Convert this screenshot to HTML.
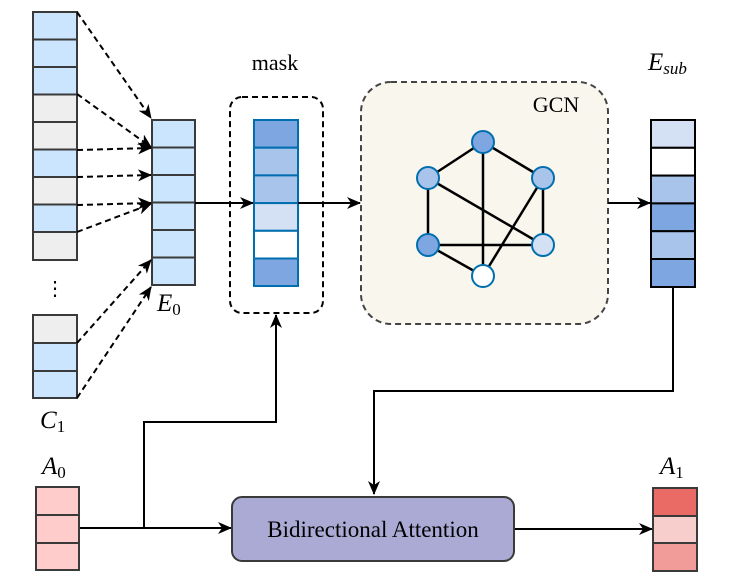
<!DOCTYPE html>
<html><head><style>body{margin:0;background:#fff}svg{display:block}</style></head><body>
<svg width="747" height="578" viewBox="0 0 747 578" xmlns="http://www.w3.org/2000/svg" font-family="Liberation Serif, serif">
<defs>
<marker id="ah" markerWidth="14" markerHeight="14" refX="13" refY="6" orient="auto" markerUnits="userSpaceOnUse"><path d="M0,0 L14,6 L0,12 L4,6 z" fill="#000"/></marker>
</defs>
<g stroke="#3a3a3a" stroke-width="2">
<rect x="33" y="12" width="44" height="27.5" fill="#CCE5FF"/>
<rect x="33" y="39.5" width="44" height="27.5" fill="#CCE5FF"/>
<rect x="33" y="67" width="44" height="27.5" fill="#CCE5FF"/>
<rect x="33" y="94.5" width="44" height="27.5" fill="#EEEEEE"/>
<rect x="33" y="122" width="44" height="27.5" fill="#EEEEEE"/>
<rect x="33" y="149.5" width="44" height="27.5" fill="#CCE5FF"/>
<rect x="33" y="177" width="44" height="27.5" fill="#EEEEEE"/>
<rect x="33" y="204.5" width="44" height="27.5" fill="#CCE5FF"/>
<rect x="33" y="232" width="44" height="28" fill="#EEEEEE"/>
<rect x="33" y="315" width="44" height="28" fill="#EEEEEE"/>
<rect x="33" y="343" width="44" height="28" fill="#CCE5FF"/>
<rect x="33" y="371" width="44" height="27" fill="#CCE5FF"/>
<rect x="152" y="120" width="43" height="27.5" fill="#CCE5FF"/>
<rect x="152" y="147.5" width="43" height="27.5" fill="#CCE5FF"/>
<rect x="152" y="175" width="43" height="27.5" fill="#CCE5FF"/>
<rect x="152" y="202.5" width="43" height="27.5" fill="#CCE5FF"/>
<rect x="152" y="230" width="43" height="27.5" fill="#CCE5FF"/>
<rect x="152" y="257.5" width="43" height="27.5" fill="#CCE5FF"/>
</g>
<text x="55" y="295" font-size="20" text-anchor="middle">⋮</text>
<g stroke="#000" stroke-width="2" stroke-dasharray="6,4" fill="none" marker-end="url(#ah)">
<line x1="77" y1="12" x2="151" y2="118"/>
<line x1="77" y1="94" x2="151" y2="147"/>
<line x1="77" y1="150" x2="151" y2="148"/>
<line x1="77" y1="177" x2="151" y2="175"/>
<line x1="77" y1="205" x2="151" y2="203"/>
<line x1="77" y1="232" x2="151" y2="204"/>
<line x1="77" y1="343" x2="151" y2="260"/>
<line x1="77" y1="398" x2="151" y2="287"/>
</g>
<text x="157" y="311" font-size="25" font-style="italic">E<tspan font-size="17" font-style="normal" dy="4">0</tspan></text>
<text x="40" y="428" font-size="25" font-style="italic">C<tspan font-size="17" font-style="normal" dy="4">1</tspan></text>
<text x="275" y="70" font-size="22" text-anchor="middle">mask</text>
<rect x="230" y="97" width="93" height="216" rx="12" fill="none" stroke="#000" stroke-width="2" stroke-dasharray="6,4"/>
<g stroke="#006EAF" stroke-width="2">
<rect x="254" y="120" width="44" height="27.7" fill="#7EA6E0"/>
<rect x="254" y="147.7" width="44" height="27.7" fill="#A9C4EB"/>
<rect x="254" y="175.4" width="44" height="27.7" fill="#A9C4EB"/>
<rect x="254" y="203.1" width="44" height="27.7" fill="#D4E1F5"/>
<rect x="254" y="230.8" width="44" height="27.7" fill="#FFFFFF"/>
<rect x="254" y="258.5" width="44" height="27.5" fill="#7EA6E0"/>
</g>
<rect x="361" y="82" width="247" height="242" rx="30" fill="#F9F7ED" stroke="#444" stroke-width="2" stroke-dasharray="6,4"/>
<text x="556" y="112" font-size="22" text-anchor="middle">GCN</text>
<g stroke="#000" stroke-width="2.5">
<line x1="483" y1="142" x2="428" y2="178"/><line x1="483" y1="142" x2="543" y2="178"/>
<line x1="483" y1="142" x2="483" y2="276"/><line x1="428" y1="178" x2="428" y2="245"/>
<line x1="428" y1="178" x2="543" y2="245"/><line x1="543" y1="178" x2="543" y2="245"/>
<line x1="543" y1="178" x2="483" y2="276"/><line x1="428" y1="245" x2="543" y2="245"/>
<line x1="428" y1="245" x2="483" y2="276"/>
</g>
<g stroke="#006EAF" stroke-width="2">
<circle cx="483" cy="142" r="11" fill="#7EA6E0"/>
<circle cx="428" cy="178" r="11" fill="#A9C4EB"/>
<circle cx="543" cy="178" r="11" fill="#A9C4EB"/>
<circle cx="428" cy="245" r="11" fill="#7EA6E0"/>
<circle cx="543" cy="245" r="11" fill="#D4E1F5"/>
<circle cx="483" cy="276" r="11" fill="#FFFFFF"/>
</g>
<g stroke="#000" stroke-width="2" fill="none">
<line x1="195" y1="203" x2="253" y2="203" marker-end="url(#ah)"/>
<line x1="298" y1="203" x2="360" y2="203" marker-end="url(#ah)"/>
<line x1="608" y1="203" x2="650" y2="203" marker-end="url(#ah)"/>
<polyline points="673,287 673,391 374,391 374,494" marker-end="url(#ah)"/>
<polyline points="79,528 231,528" marker-end="url(#ah)"/>
<polyline points="144,528 144,422 276,422 276,315" marker-end="url(#ah)"/>
<line x1="514" y1="529" x2="652" y2="529" marker-end="url(#ah)"/>
</g>
<g stroke="#000" stroke-width="2">
<rect x="651" y="120" width="44" height="27.8" fill="#D4E1F5"/>
<rect x="651" y="147.8" width="44" height="27.8" fill="#FFFFFF"/>
<rect x="651" y="175.6" width="44" height="27.8" fill="#A9C4EB"/>
<rect x="651" y="203.4" width="44" height="27.8" fill="#7EA6E0"/>
<rect x="651" y="231.2" width="44" height="27.8" fill="#A9C4EB"/>
<rect x="651" y="259" width="44" height="28" fill="#7EA6E0"/>
</g>
<text x="648" y="70" font-size="25" font-style="italic">E<tspan font-size="17" dy="4">sub</tspan></text>
<rect x="232" y="497" width="282" height="64" rx="10" fill="#ABAAD5" stroke="#3a3a3a" stroke-width="2"/>
<text x="373" y="537" font-size="23" text-anchor="middle">Bidirectional Attention</text>
<g stroke="#3a3a3a" stroke-width="2">
<rect x="36" y="487" width="43" height="28" fill="#FFCCCC"/>
<rect x="36" y="515" width="43" height="28" fill="#FFCCCC"/>
<rect x="36" y="543" width="43" height="27" fill="#FFCCCC"/>
<rect x="653" y="488" width="44" height="28" fill="#EA6B66"/>
<rect x="653" y="516" width="44" height="27" fill="#F8CECC"/>
<rect x="653" y="543" width="44" height="28" fill="#F19C99"/>
</g>
<text x="42" y="474" font-size="25" font-style="italic">A<tspan font-size="17" font-style="normal" dy="4">0</tspan></text>
<text x="660" y="474" font-size="25" font-style="italic">A<tspan font-size="17" font-style="normal" dy="4">1</tspan></text>
</svg>
</body></html>
